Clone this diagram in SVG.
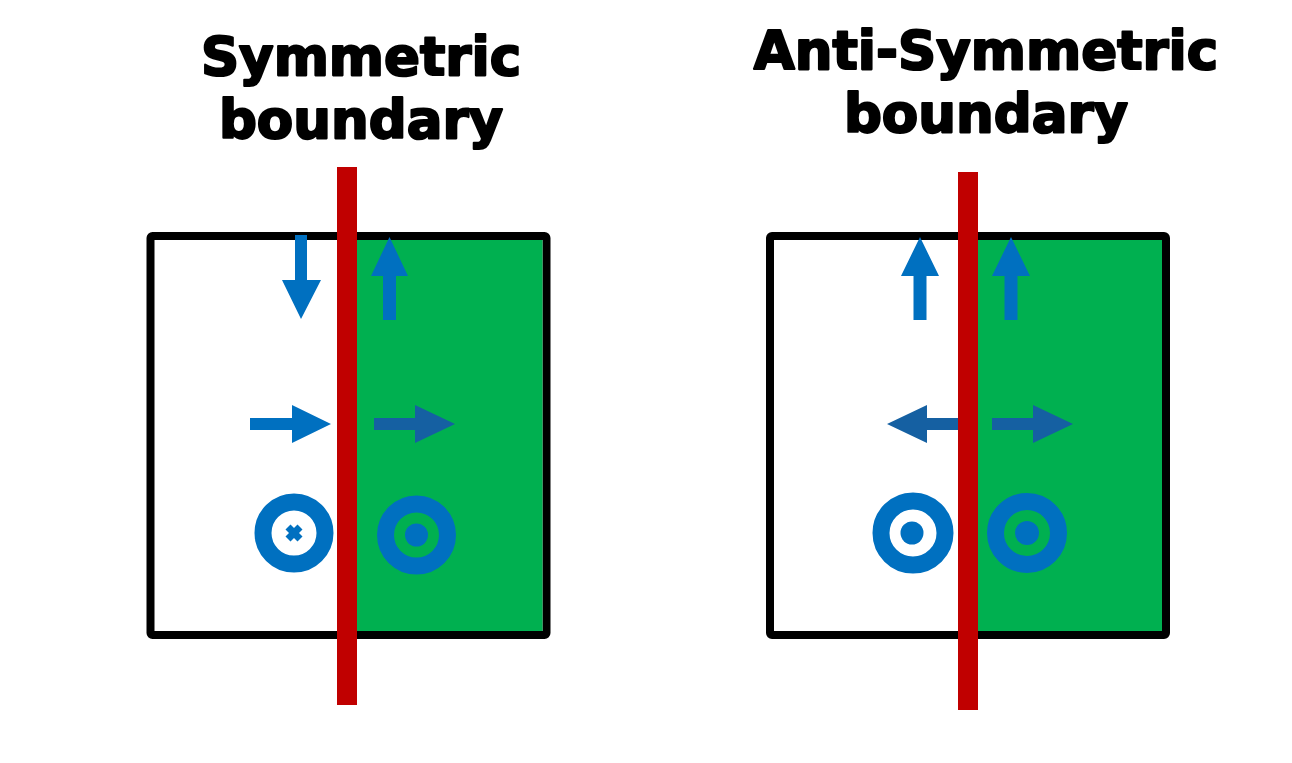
<svg xmlns="http://www.w3.org/2000/svg" width="1292" height="763" viewBox="0 0 1292 763">
<style>
.title{font-family:"DejaVu Sans","Liberation Sans",Arial,sans-serif;font-weight:bold;font-size:53px;fill:#000;stroke:#000;stroke-width:2.2;stroke-linejoin:round;text-anchor:middle}
.box{fill:#fff;stroke:#000;stroke-width:8;stroke-linejoin:round}
.green{fill:#00b050}
.bnd{fill:#c00000}
.blue{fill:#0070c0}
.dblue{fill:#1560a2}
.ring{fill:none;stroke:#0070c0;stroke-width:17}
</style>
<rect width="1292" height="763" fill="#fff"/>

<g id="symmetric">
  <text class="title" x="361" y="75">Symmetric</text>
  <text class="title" x="361" y="138">boundary</text>
  <rect class="box" x="150.5" y="236" width="396" height="399" rx="2"/>
  <rect class="green" x="356" y="240" width="186.5" height="391"/>
  <rect class="bnd" x="337" y="167" width="20" height="538"/>
  <!-- down arrow -->
  <path class="blue" d="M295,235 H307 V280 H321 L301,319 L282,280 H295 Z"/>
  <!-- up arrow -->
  <path class="blue" d="M389.5,237 L408,276 H396 V320 H383 V276 H371 Z"/>
  <!-- right arrows -->
  <path class="blue" d="M250,418 H292 V405 L331,424 L292,443 V430 H250 Z"/>
  <path class="dblue" d="M374,418 H415 V405 L455,424 L415,443 V430 H374 Z"/>
  <!-- circles -->
  <circle cx="294" cy="533" r="40" fill="#fff"/>
  <circle class="ring" cx="294" cy="533" r="31"/>
  <g stroke="#0070c0" stroke-width="7">
    <line x1="288" y1="527" x2="300" y2="539"/>
    <line x1="300" y1="527" x2="288" y2="539"/>
  </g>
  <circle class="ring" cx="416.5" cy="535" r="31"/>
  <circle class="blue" cx="416.5" cy="535" r="11.5"/>
</g>

<g id="antisymmetric">
  <text class="title" x="986" y="69">Anti-Symmetric</text>
  <text class="title" x="986" y="132">boundary</text>
  <rect class="box" x="770" y="236" width="396" height="399" rx="2"/>
  <rect class="green" x="977" y="240" width="185" height="391"/>
  <rect class="bnd" x="958" y="172" width="20" height="538"/>
  <!-- up arrows -->
  <path class="blue" d="M920,237 L939,276 H926.5 V320 H913.5 V276 H901 Z"/>
  <path class="blue" d="M1011,237 L1030,276 H1017.5 V320 H1004.5 V276 H992 Z"/>
  <!-- horizontal arrows -->
  <path class="dblue" d="M958,418 H927 V405 L887,424 L927,443 V430 H958 Z"/>
  <path class="dblue" d="M992,418 H1033 V405 L1073,424 L1033,443 V430 H992 Z"/>
  <!-- circles -->
  <circle cx="913" cy="533" r="40" fill="#fff"/>
  <circle class="ring" cx="913" cy="533" r="32"/>
  <circle class="blue" cx="912" cy="533" r="11.5"/>
  <circle class="ring" cx="1027" cy="533" r="31.5"/>
  <circle class="blue" cx="1027" cy="533" r="12"/>
</g>
</svg>
